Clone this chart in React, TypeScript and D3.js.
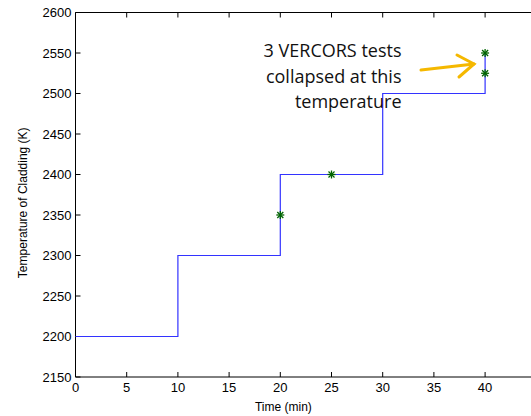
import React from "react";
import * as d3 from "d3";

const stepTimes = [0, 10, 20, 30, 40];
const stepTemps = [2200, 2300, 2400, 2500, 2550];
const testTimes = [20, 25, 40, 40];
const testTemps = [2350, 2400, 2550, 2525];
const xTicks = [0, 5, 10, 15, 20, 25, 30, 35, 40];
const yTicks = [2150, 2200, 2250, 2300, 2350, 2400, 2450, 2500, 2550, 2600];
const noteLines = ["3 VERCORS tests", "collapsed at this", "temperature"];

export default function App() {
  const W = 531, H = 416;
  const left = 75.5, top = 12.5, bottom = 377;
  const x = d3.scaleLinear().domain([0, 45]).range([left, left + 45 * 10.24]);
  const y = d3.scaleLinear().domain([2150, 2600]).range([bottom, top]);
  const line = d3.line<number>().x((_, i) => x(stepTimes[i])).y((d) => y(d)).curve(d3.curveStepAfter);
  const right = x(45);
  const font = "Liberation Sans, Arial, sans-serif";
  return (
    <svg width={W} height={H} style={{ position: "absolute", left: 0, top: 0 }}>
      <rect width={W} height={H} fill="#fff" />
      {/* axes box */}
      <line x1={left} x2={right} y1={bottom} y2={bottom} stroke="#000" />
      <line x1={left} x2={right} y1={top} y2={top} stroke="#000" />
      <line x1={left} x2={left} y1={top} y2={bottom} stroke="#000" />
      {xTicks.map((t) => (
        <g key={"x" + t}>
          <line x1={x(t)} x2={x(t)} y1={bottom} y2={bottom - 5} stroke="#000" />
          <line x1={x(t)} x2={x(t)} y1={top} y2={top + 5} stroke="#000" />
          <text x={x(t)} y={bottom + 15} fontSize={13} fontFamily={font} textAnchor="middle">{t}</text>
        </g>
      ))}
      {yTicks.map((t) => (
        <g key={"y" + t}>
          <line x1={left} x2={left + 5} y1={y(t)} y2={y(t)} stroke="#000" />
          <text x={left - 4} y={y(t) + 4.5} fontSize={13} fontFamily={font} textAnchor="end">{t}</text>
        </g>
      ))}
      <text x={x(20.3)} y={411} fontSize={12} fontFamily={font} textAnchor="middle">Time (min)</text>
      <text transform={`translate(27,${(top + bottom) / 2 + 8}) rotate(-90)`} fontSize={12} fontFamily={font} textAnchor="middle">Temperature of Cladding (K)</text>
      <path d={line(stepTemps) || ""} fill="none" stroke="#3333ff" strokeWidth={1.2} />
      {testTimes.map((t, i) => {
        const cx = x(t), cy = y(testTemps[i]);
        return (
          <g key={"m" + i} stroke="#006400" strokeWidth={1.3}>
            <line x1={cx - 4} x2={cx + 4} y1={cy} y2={cy} />
            <line x1={cx} x2={cx} y1={cy - 4} y2={cy + 4} />
            <line x1={cx - 3} x2={cx + 3} y1={cy - 3} y2={cy + 3} />
            <line x1={cx - 3} x2={cx + 3} y1={cy + 3} y2={cy - 3} />
          </g>
        );
      })}
      {noteLines.map((s, i) => (
        <text key={s} x={401.5} y={57 + i * 25.5} fontSize={18} fontFamily="Open Sans, sans-serif" textAnchor="end" fill="#111">{s}</text>
      ))}
      <g stroke="#f5b800" strokeWidth={3} fill="none" strokeLinecap="round">
        <line x1={421} x2={474} y1={70} y2={64} />
        <polyline points="457,55 474,64 459,77" />
      </g>
    </svg>
  );
}
